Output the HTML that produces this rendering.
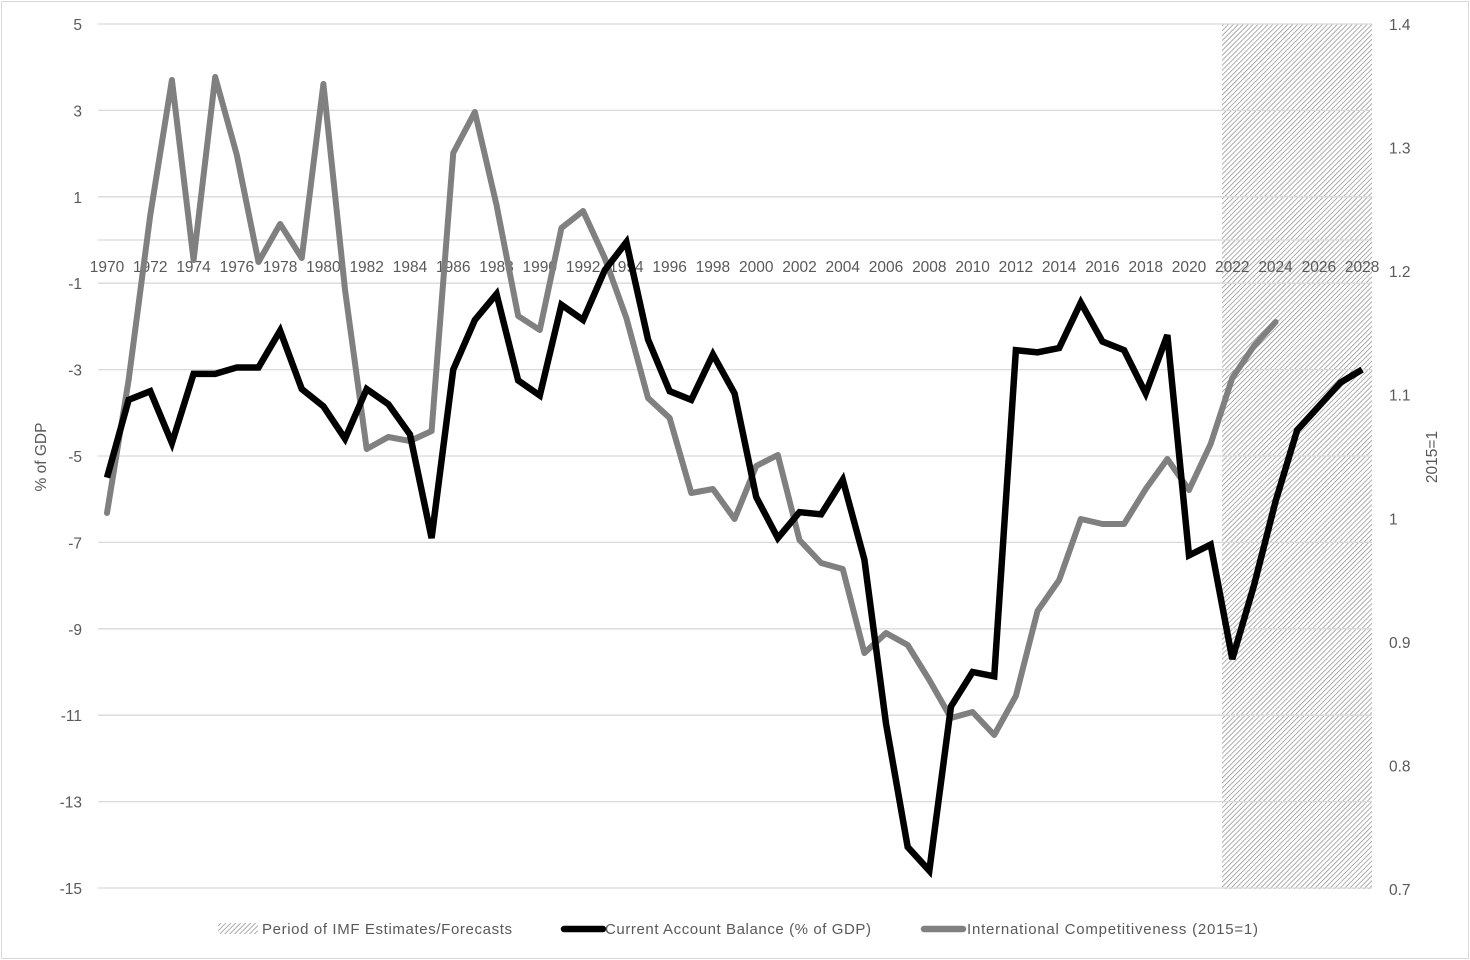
<!DOCTYPE html>
<html><head><style>
body{margin:0;background:#fff;}
svg{display:block;font-family:"Liberation Sans",sans-serif;}
</style></head><body>
<svg id="s" width="1470" height="960" xmlns="http://www.w3.org/2000/svg">
<defs>
<pattern id="h" width="3.5" height="3.5" patternUnits="userSpaceOnUse" patternTransform="rotate(45)">
<rect width="4" height="4" fill="#fff"/><line x1="0" y1="0" x2="0" y2="4" stroke="#8a8a8a" stroke-width="1.4"/>
</pattern>
</defs>
<rect x="1.5" y="1.5" width="1467" height="957" fill="#fff" stroke="#d9d9d9" stroke-width="1"/>
<rect x="1222" y="24" width="150" height="865" fill="url(#h)"/>
<g id="grid" stroke="#d9d9d9" stroke-width="1.3"></g>
<g id="lab" fill="#595959" font-size="15.5"></g>
<text x="46" y="457" font-size="15.5" fill="#595959" transform="rotate(-90 46 457)" text-anchor="middle">% of GDP</text>
<text x="1437" y="457" font-size="15.5" fill="#595959" transform="rotate(-90 1437 457)" text-anchor="middle">2015=1</text>
<polyline id="gray" fill="none" stroke="#808080" stroke-width="6" stroke-linejoin="round" stroke-linecap="round"/>
<polyline id="blk" fill="none" stroke="#000" stroke-width="6.5" stroke-linejoin="miter"/>
<rect x="218" y="923" width="40" height="11" fill="url(#h)"/>
<text x="262" y="934" font-size="15" fill="#595959" textLength="250">Period of IMF Estimates/Forecasts</text>
<line x1="564" y1="929" x2="603" y2="929" stroke="#000" stroke-width="6.5" stroke-linecap="round"/>
<text x="605" y="934" font-size="15" fill="#595959" textLength="266">Current Account Balance (% of GDP)</text>
<line x1="924" y1="929" x2="963" y2="929" stroke="#808080" stroke-width="6.5" stroke-linecap="round"/>
<text x="967" y="934" font-size="15" fill="#595959" textLength="291">International Competitiveness (2015=1)</text>
</svg>
<script>
const NS="http://www.w3.org/2000/svg";
const Y=v=>24+(5-v)*43.2, X=yr=>107+(yr-1970)*21.64;
const g=document.getElementById('grid'),l=document.getElementById('lab');
function el(p,t,a,txt){const e=document.createElementNS(NS,t);for(const k in a)e.setAttribute(k,a[k]);if(txt!==undefined)e.textContent=txt;p.appendChild(e);}
for(let v=5;v>=-15;v-=2){el(g,'line',{x1:98,x2:1372,y1:Y(v),y2:Y(v)});el(l,'text',{x:82,y:Y(v)+6,'text-anchor':'end'},v);}
el(g,'line',{x1:98,x2:1372,y1:Y(0),y2:Y(0)});
for(let yr=1970;yr<=2028;yr+=2)el(l,'text',{x:X(yr),y:272,'text-anchor':'middle'},yr);
const RY=v=>24+(1.4-v)*1235.7;
[[1.4,'1.4'],[1.3,'1.3'],[1.2,'1.2'],[1.1,'1.1'],[1.0,'1'],[0.9,'0.9'],[0.8,'0.8'],[0.7,'0.7']].forEach(([v,t])=>el(l,'text',{x:1389,y:RY(v)+6},t));
const ca=[-5.5,-3.7,-3.5,-4.7,-3.1,-3.1,-2.95,-2.95,-2.1,-3.45,-3.85,-4.6,-3.45,-3.8,-4.5,-6.9,-3.0,-1.85,-1.25,-3.25,-3.6,-1.5,-1.85,-0.7,-0.05,-2.3,-3.5,-3.7,-2.65,-3.55,-5.95,-6.9,-6.3,-6.35,-5.55,-7.4,-11.2,-14.05,-14.6,-10.8,-10.0,-10.1,-2.55,-2.6,-2.5,-1.45,-2.35,-2.55,-3.55,-2.2,-7.3,-7.05,-9.7,-8.0,-6.05,-4.4,-3.85,-3.3,-3.0];
document.getElementById('blk').setAttribute('points',ca.map((v,i)=>X(1970+i)+','+Y(v)).join(' '));
const gy=[513,380,215,80,260,77,155,262,224,258,84,290,449,437,441,431,153,112,205,316,330,228,211,258,318,398,418,493,489,519,466,455,540,563,569,653,633,645,680,718,712,735,696,611,580,519,524,524,489,459,490,444,378,346,322];
document.getElementById('gray').setAttribute('points',gy.map((v,i)=>X(1970+i)+','+v).join(' '));
</script>
</body></html>
